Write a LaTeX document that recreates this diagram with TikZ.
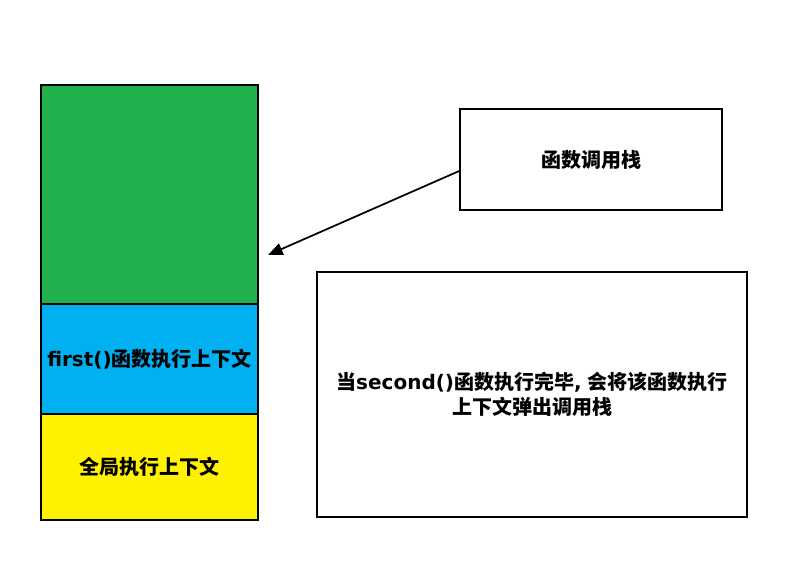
\documentclass[tikz,border=0pt]{standalone}
\usepackage{fontspec}
\usepackage{xcolor}
\usepackage{tikz}
\usetikzlibrary{arrows.meta}
\newfontfamily\cjk{Noto Sans CJK SC}
\newfontfamily\lat{DejaVu Sans}
\definecolor{framegreen}{RGB}{35,177,77}
\definecolor{frameblue}{RGB}{0,176,240}
\definecolor{frameyellow}{RGB}{255,242,0}
\newcommand{\zh}[1]{{\cjk\bfseries #1}}
\newcommand{\en}[1]{{\lat\bfseries #1}}

\begin{document}
\begin{tikzpicture}[x=0.75pt,y=-0.75pt,
	every node/.style={font=\fontsize{15}{18.75}\selectfont},
	frame/.style={draw=black, line width=1.6pt, rectangle, inner sep=0pt, minimum width=217*0.75pt},
	note/.style={draw=black, line width=1.3pt, rectangle, inner sep=0pt, fill=white}]
			\useasboundingbox (0,0) rectangle (806,581);
			\node at (149.5, 194.5) (top) [frame, fill=framegreen, minimum height=219*0.75pt] {};
			\node at (149.5, 359) (first) [frame, fill=frameblue, minimum height=110*0.75pt] {\en{first()}\zh{函数执行上下文}};
			\node at (149.5, 467) (global) [frame, fill=frameyellow, minimum height=106*0.75pt] {\zh{全局执行上下文}};
			\node at (591, 159.5) (head) [note, minimum width=262*0.75pt, minimum height=101*0.75pt] {\zh{函数调用栈}};
			\node at (532, 394.5) (info) [note, minimum width=430*0.75pt, minimum height=245*0.75pt, align=center] {\zh{当}\en{second()}\zh{函数执行完毕}\en{,} \zh{会将该函数执行}\\\zh{上下文弹出调用栈}};
			\coordinate (tip) at (268, 255);
			\draw [line width=1.3pt, -{Triangle[length=11pt, width=9pt]}] (head.185) -- (tip);
		\end{tikzpicture}
\end{document}
